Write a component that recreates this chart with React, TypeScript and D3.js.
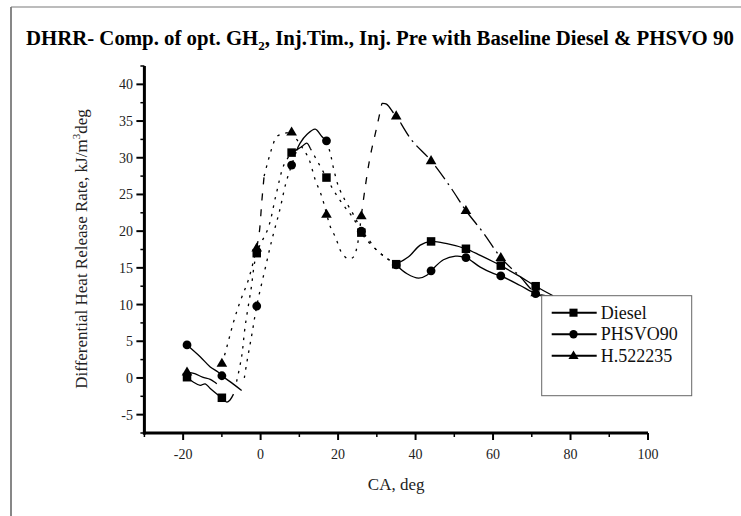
import React from "react";
import * as d3 from "d3";

// ---- data ----
const CA = [-19, -10, -1, 8, 17, 26, 35, 44, 53, 62, 71];
const dieselValues = [0.1, -2.7, 17.0, 30.7, 27.3, 19.8, 15.5, 18.6, 17.6, 15.3, 12.5];
const phsvoValues = [4.5, 0.3, 9.8, 29.0, 32.3, 20.0, 15.4, 14.6, 16.4, 13.9, 11.5];
const hValues = [0.8, 2.0, 17.7, 33.5, 22.3, 22.1, 35.7, 29.6, 22.8, 16.4, 11.6];

const xTicks = [-20, 0, 20, 40, 60, 80, 100];
const yTicks = [-5, 0, 5, 10, 15, 20, 25, 30, 35, 40];
const seriesNames = ["Diesel", "PHSVO90", "H.522235"];

// spline traces (as drawn in the reference)
const dieselTraceA = [[-19, 0.1], [-17.4, -0.55], [-15.6, -1.0], [-14.3, -0.8], [-13, -1.45], [-10.9, -2.36], [-10, -2.7], [-8.7, -3.3], [-7.9, -3.0], [-7, -2.2]];
const dieselTraceB = [[-6.2, -0.5], [-4.9, 2.9], [-4, 7], [-2.5, 12], [-1, 17], [2, 20.5], [4, 25], [6, 29], [8, 30.7]];
const dieselTraceC = [[8, 30.7], [10.6, 31.5], [11.9, 32], [12.8, 31.3]];
const dieselTraceD = [[12.8, 31.3], [15, 29.2], [17, 27.3], [18.8, 25.6], [20.5, 24.2], [22.3, 22.9], [24, 21.7], [26, 19.8], [27.4, 18.8], [30, 17.4], [32.6, 16.3], [35, 15.5]];
const dieselTraceE = [[35, 15.5], [38.2, 16.5], [41.2, 18.1], [44, 18.6], [48.1, 18.3], [53, 17.6], [56.7, 16.7], [60.2, 15.8], [62, 15.3], [67, 13.8], [71, 12.5], [75.5, 11.2]];

const phsvoTraceA = [[-19, 4.5], [-15.6, 2.9], [-13, 1.5], [-11, 0.8], [-10, 0.3], [-7.9, -0.5], [-4.9, -1.7]];
const phsvoTraceB = [[-4.2, 0], [-3.6, 2], [-2.3, 5.8], [-1, 9.8], [1, 14.5], [3, 19], [5, 23], [6.5, 26.5], [8, 29], [9.3, 31]];
const phsvoTraceC = [[9.3, 31], [10.2, 32], [12, 33.2], [14.1, 33.9], [15.8, 32.9], [17, 32.3]];
const phsvoTraceD = [[17, 32.3], [18, 30.6], [18.8, 28.6], [20.1, 26.1], [21.8, 24.2], [23.6, 22.6], [24.9, 21.3], [26, 20], [27.4, 19.2], [30, 17.4], [32.6, 16.3], [35, 15.4]];
const phsvoTraceE = [[35, 15.4], [37.8, 14.2], [40.8, 13.6], [42.9, 14], [44, 14.6], [47.2, 16.1], [50.3, 16.6], [53, 16.4], [56.7, 15.1], [60.2, 14.2], [62, 13.9], [67, 12.6], [71, 11.5], [75.5, 11.0]];

const hTraceA = [[-19, 0.8], [-17, 0.6], [-15, 0.1], [-13, -0.2], [-11.3, -0.8]];
const hTraceB = [[-10, 2], [-9.2, 3.3], [-7, 7.6], [-5.3, 10.4], [-3.2, 13.3], [-1, 17.7]];
const hTraceC = [[-1, 17.7], [-0.3, 20], [0.3, 24], [0.9, 27.5]];
const hTraceD = [[0.9, 27.5], [2, 29.7], [2.9, 31.3], [4.2, 32.9], [6, 33.3], [8, 33.5]];
const hTraceE = [[8, 33.5], [10.6, 31.5], [12.4, 29.9], [14.1, 27], [15.8, 24.7], [17, 22.4], [18, 20.6], [19.3, 19.2], [21, 17], [22.7, 16.2], [24, 16.5], [24.9, 17.9], [26, 22.1]];
const hTraceF = [[26, 22.1], [27, 26], [28.3, 30.2], [30, 34.2], [31.3, 37.4]];
const hTraceG = [[31.3, 37.4], [32.5, 37.3], [34.3, 36.1], [35, 35.7], [39, 32.4], [44, 29.6], [49, 26], [53, 22.8], [57.6, 19.7], [62, 16.4], [67, 13.8], [71, 11.6], [75.5, 11.1]];

// ---- layout ----
const W = 741;
const H = 516;
const FONT = "'Liberation Serif', 'Times New Roman', Times, serif";

const x = d3.scaleLinear().domain([-30, 100]).range([144.4, 648]);
const y = d3.scaleLinear().domain([-7.5, 42.5]).range([433, 66]);

const DOT = "2.5,6";
const DASH = "7,9";
const DASHDOT = "16,5,2,5";

const traces: { pts: number[][]; dash?: string }[] = [
  { pts: dieselTraceA },
  { pts: dieselTraceB, dash: DOT },
  { pts: dieselTraceC },
  { pts: dieselTraceD, dash: DOT },
  { pts: dieselTraceE },
  { pts: phsvoTraceA },
  { pts: phsvoTraceB, dash: DOT },
  { pts: phsvoTraceC },
  { pts: phsvoTraceD, dash: DOT },
  { pts: phsvoTraceE },
  { pts: hTraceA },
  { pts: hTraceB, dash: DOT },
  { pts: hTraceC, dash: DASH },
  { pts: hTraceD, dash: DOT },
  { pts: hTraceE, dash: DOT },
  { pts: hTraceF, dash: DASH },
  { pts: hTraceG, dash: DASHDOT },
];

const line = d3
  .line<number[]>()
  .x((d) => x(d[0]))
  .y((d) => y(d[1]))
  .curve(d3.curveCatmullRom.alpha(0.5));

function Marker({ kind, cx, cy, s = 1 }: { kind: number; cx: number; cy: number; s?: number }) {
  if (kind === 0) {
    const a = 8.5 * s;
    return <rect x={cx - a / 2} y={cy - a / 2} width={a} height={a} fill="#000" />;
  }
  if (kind === 1) {
    return <circle cx={cx} cy={cy} r={4.4 * s} fill="#000" />;
  }
  const r = 5.6 * s;
  const p = [
    [cx, cy - r],
    [cx + r * 0.95, cy + r * 0.62],
    [cx - r * 0.95, cy + r * 0.62],
  ];
  return <polygon points={p.map((q) => q.join(",")).join(" ")} fill="#000" />;
}

export default function App() {
  const seriesVals = [dieselValues, phsvoValues, hValues];
  const xMinor = d3.range(-30, 101, 10).filter((v) => v % 20 !== 0);
  const yMinor = d3.range(-7.5, 42.6, 5);
  const x0 = x(-30);
  const yb = y(-7.5);
  const legX = 541.7;
  const legY = 295.7;
  return (
    <svg width={W} height={H} style={{ display: "block", position: "absolute", left: 0, top: 0 }} fontFamily={FONT}>
      <rect x={0} y={0} width={W} height={H} fill="#fff" />
      {/* frame */}
      <line x1={11} y1={7} x2={W} y2={7} stroke="#7a7a7a" strokeWidth={1.2} />
      <line x1={11} y1={7} x2={11} y2={H} stroke="#7a7a7a" strokeWidth={1.8} />

      {/* title */}
      <text x={26} y={45} fontSize={20.8} fontWeight="bold" fill="#000">
        DHRR- Comp. of opt. GH
        <tspan fontSize={13} dy={5}>2</tspan>
        <tspan dy={-5}>, Inj.Tim., Inj. Pre with Baseline Diesel &amp; PHSVO 90</tspan>
      </text>

      {/* traces */}
      {traces.map((t, i) => (
        <path key={i} d={line(t.pts) || ""} fill="none" stroke="#000" strokeWidth={1.3} strokeDasharray={t.dash} />
      ))}

      {/* markers */}
      {seriesVals.map((vals, si) =>
        vals.map((v, i) => <Marker key={si + "-" + i} kind={si} cx={x(CA[i])} cy={y(v)} />)
      )}

      {/* y axis */}
      <line x1={x0} y1={y(42.5)} x2={x0} y2={yb + 1.5} stroke="#000" strokeWidth={3} />
      {yTicks.map((t) => (
        <g key={t}>
          <line x1={x0 - 8} x2={x0} y1={y(t)} y2={y(t)} stroke="#000" strokeWidth={2} />
          <text x={133} y={y(t) + 5} fontSize={14} textAnchor="end" fill="#222">
            {t}
          </text>
        </g>
      ))}
      {yMinor.map((t) => (
        <line key={t} x1={x0 - 4} x2={x0} y1={y(t)} y2={y(t)} stroke="#000" strokeWidth={1.5} />
      ))}

      {/* x axis */}
      <line x1={x0 - 1.5} y1={yb} x2={x(100)} y2={yb} stroke="#000" strokeWidth={3} />
      {xTicks.map((t) => (
        <g key={t}>
          <line x1={x(t)} x2={x(t)} y1={yb} y2={yb + 7} stroke="#000" strokeWidth={2} />
          <text x={x(t)} y={459} fontSize={14} textAnchor="middle" fill="#222">
            {t}
          </text>
        </g>
      ))}
      {xMinor.map((t) => (
        <line key={t} x1={x(t)} x2={x(t)} y1={yb} y2={yb + 4} stroke="#000" strokeWidth={1.5} />
      ))}

      {/* axis titles */}
      <text x={(x(-30) + x(100)) / 2} y={490} fontSize={17} textAnchor="middle" fill="#222">
        CA, deg
      </text>
      <text transform={`translate(87, 249) rotate(-90)`} fontSize={17} textAnchor="middle" fill="#222">
        Differential Heat Release Rate, kJ/m<tspan fontSize={11} dy={-7}>3</tspan>
        <tspan dy={7}>deg</tspan>
      </text>

      {/* legend */}
      <rect x={legX} y={legY} width={150} height={100} fill="#fff" stroke="#666" strokeWidth={1} />
      {seriesNames.map((n, i) => {
        const cy = 312.7 + i * 21.5;
        return (
          <g key={n}>
            <line x1={551.7} x2={596.7} y1={cy} y2={cy} stroke="#000" strokeWidth={2} />
            <Marker kind={i} cx={573.5} cy={cy} s={0.95} />
            <text x={600.7} y={cy + 6} fontSize={18} fill="#111">
              {n}
            </text>
          </g>
        );
      })}
    </svg>
  );
}
